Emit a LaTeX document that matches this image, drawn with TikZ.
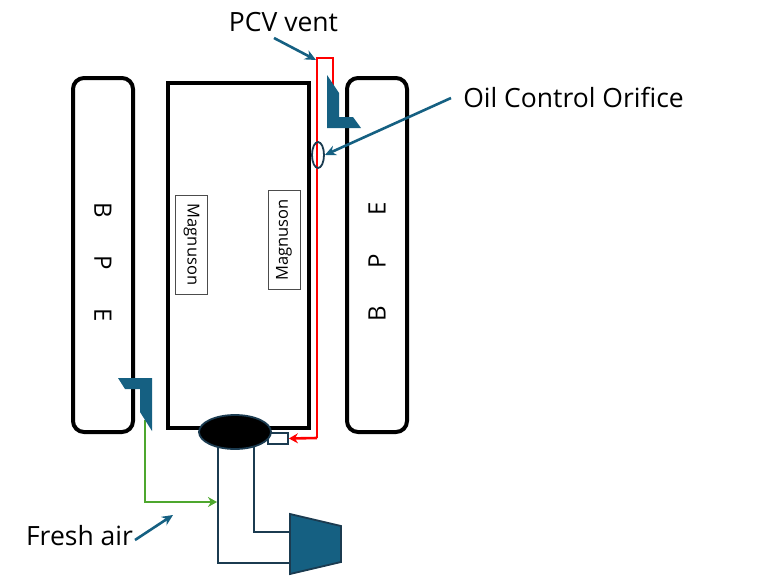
\documentclass[tikz,border=0pt]{standalone}
\usepackage{fontspec}
\setmainfont{Open Sans}
\usetikzlibrary{shapes.geometric,arrows.meta}

\definecolor{duct}{HTML}{156082}
\definecolor{ductdark}{HTML}{1B3B50}
\definecolor{airgreen}{HTML}{4EA72E}

\tikzset{
  bpebox/.style={draw=black, line width=4pt, rounded corners=11pt, minimum width=354pt, minimum height=60pt, inner sep=0pt, font=\fontsize{24}{24}\selectfont},
  magbox/.style={draw=black!70, line width=0.9pt, rotate=#1, minimum width=99pt, minimum height=32pt, inner sep=0pt, font=\fontsize{16.5}{17}\selectfont},
  label/.style={font=\fontsize{26.5}{28}\selectfont, inner sep=0pt},
  callout/.style={color=duct, line width=2.6pt, -{Stealth[length=11pt,width=10pt]}},
  redline/.style={color=red, line width=2.6pt},
  greenline/.style={color=airgreen, line width=2.6pt},
  pipe/.style={color=ductdark, line width=2.6pt},
}

\begin{document}
\begin{tikzpicture}[x=1pt,y=-1pt]
\useasboundingbox (0,0) rectangle (775,578);

% blocks
\node[bpebox, rotate=-90] (bpeleft) at (103,255) {\hspace{14pt}B\hspace{38pt}P\hspace{38pt}E};
\node[bpebox, rotate=90] (bperight) at (377,255) {B\hspace{38pt}P\hspace{38pt}E\hspace{14pt}\null};
\node[draw=black, line width=4pt, minimum width=141pt, minimum height=345pt, inner sep=0pt] (engine) at (238.5,255.5) {};

\node[magbox=-90] (magleft) at (191.5,244.5) {Magnuson};
\node[magbox=90] (magright) at (284,240) {Magnuson};

% vent line
\coordinate (ventstart) at (317,438);
\coordinate (venttop) at (317,58);
\coordinate (ventend) at (333,95);
\node[draw=ductdark, line width=1.8pt, fill=white, minimum width=20pt, minimum height=11pt, inner sep=0pt] (pcvvalve) at (278,438.5) {};
\draw[redline] (ventend) |- (venttop) -- (ventstart);
\draw[redline, -{Stealth[length=9pt,width=10pt]}] (ventstart) -- (pcvvalve.east);

% baffles
\fill[color=duct] (327,75) -- (339,93) -- (339,117) -- (353,117) -- (361,128) -- (327,128) -- cycle;
\draw[greenline, -{Stealth[length=9pt,width=10pt]}] (145,420) |- (217,502);
\fill[color=duct] (118,378) -- (152,378) -- (152,431) -- (140,412) -- (140,389) -- (125,389) -- cycle;

% intake
\coordinate (pipeAtop) at (218,447);
\coordinate (pipeAend) at (290,563);
\coordinate (pipeBtop) at (254,447);
\coordinate (pipeBend) at (290,532);
\draw[pipe] (pipeAtop) |- (pipeAend);
\draw[pipe] (pipeBtop) |- (pipeBend);
\node[ellipse, draw=ductdark, line width=1.8pt, fill=black, minimum width=72pt, minimum height=34pt, inner sep=0pt] (plenum) at (235,432) {};
\draw[color=ductdark, line width=1.8pt, fill=duct] (290,514) -- (341,526) -- (341,562) -- (290,574) -- cycle;

% orifice
\node[ellipse, draw=ductdark, line width=1.8pt, minimum width=12pt, minimum height=26pt, inner sep=0pt] (orifice) at (318,155) {};

% labels
\node[label, anchor=center] (pcvlabel) at (283.5,22) {PCV vent};
\node[label, anchor=center] (oillabel) at (573.5,97) {Oil Control Orifice};
\node[label, anchor=center] (freshlabel) at (79.5,536) {Fresh air};

\coordinate (pcvfrom) at (274,38);
\coordinate (pcvto) at (316,60);
\coordinate (oilfrom) at (451,98);
\coordinate (freshfrom) at (135,540);
\coordinate (freshto) at (173,515);
\draw[callout] (pcvfrom) -- (pcvto);
\draw[callout] (oilfrom) -- (orifice.east);
\draw[callout] (freshfrom) -- (freshto);

\end{tikzpicture}
\end{document}
